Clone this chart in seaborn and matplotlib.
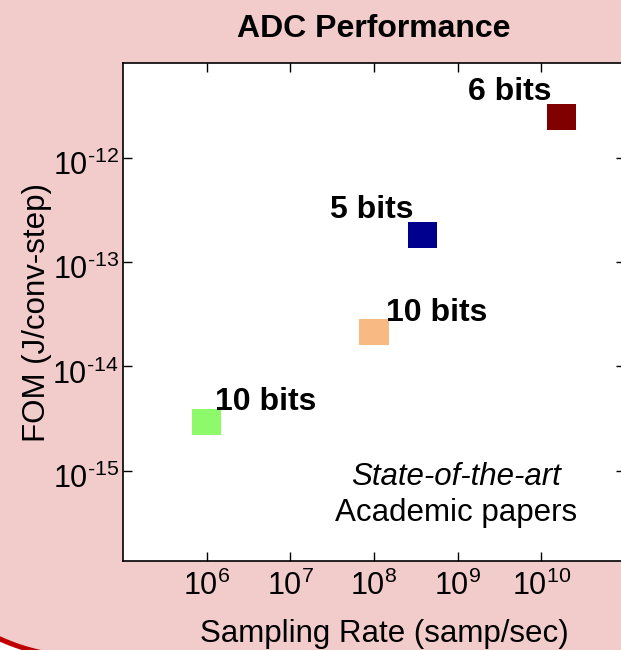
import matplotlib
matplotlib.use('Agg')
import matplotlib.pyplot as plt
import matplotlib.transforms as mtransforms
import seaborn as sns
import pandas as pd
import numpy as np
import math
from matplotlib.patches import PathPatch
from matplotlib.path import Path
from matplotlib.ticker import FixedLocator, FuncFormatter, NullLocator

# ---- data ----
series = ['6 bits A', '5 bits', '10 bits A', '10 bits B']
labels = ['6 bits', '5 bits', '10 bits', '10 bits']
rate = [1.76e10, 3.8e8, 1.0e8, 1.0e6]          # samp/sec
fom = [2.47e-12, 1.82e-13, 2.14e-14, 2.95e-15]  # J/conv-step
colors = ['#800000', '#00008F', '#F9B983', '#8FF96C']
x_ticks = [1e6, 1e7, 1e8, 1e9, 1e10]
y_ticks = [1e-15, 1e-14, 1e-13, 1e-12]
x_limits = [1e5, 1e11]
y_limits = [1.36e-16, 8.17e-12]

# label styling (offsets in points, alignment)
label_offsets = [(-7.2, 12.2), (-6.8, 12.2), (8.3, 7.9), (6.1, 8.6)]
label_ha = ['right', 'right', 'left', 'left']

sns.set_theme(style='ticks')
plt.rcParams['font.family'] = ['Liberation Sans', 'DejaVu Sans']
plt.rcParams['mathtext.default'] = 'regular'

W, H = 621, 650
fig = plt.figure(figsize=(W / 100, H / 100), dpi=100)
fig.patch.set_facecolor('white')

# slide-like pink background with rounded bottom-left corner (pixel coords)
cx, cy, R = 83.0, 457.0, 200.0        # corner circle in image pixels (y down)
theta = np.linspace(np.pi, np.pi / 2, 60)  # from left to bottom
arc_x = cx + R * np.cos(theta)
arc_y = cy + R * np.sin(theta)
px = np.concatenate([[-200, cx - R], arc_x, [W + 200, W + 200, -200]])
py = np.concatenate([[-200, cy], arc_y, [cy + R, -200, -200]])
verts = np.column_stack([px, H - py])
bg = PathPatch(Path(verts, closed=False), transform=mtransforms.IdentityTransform(),
               fc='#F2CBCB', ec='#C00000', lw=3.6, zorder=-10)
fig.add_artist(bg)

ax = fig.add_axes([123 / W, 89 / H, 502 / W, 498 / H])
ax.set_facecolor('white')

df = pd.DataFrame({'series': series, 'label': labels, 'rate': rate, 'fom': fom})
rect = [(-1, -0.9), (1, -0.9), (1, 0.9), (-1, 0.9), (-1, -0.9)]
sns.scatterplot(data=df, x='rate', y='fom', hue='series',
                palette=dict(zip(series, colors)), marker=rect, s=436,
                edgecolor='none', linewidth=0, legend=False, ax=ax, zorder=3)

ax.set_xscale('log')
ax.set_yscale('log')
ax.set_xlim(*x_limits)
ax.set_ylim(*y_limits)

ax.xaxis.set_major_locator(FixedLocator(x_ticks))
ax.yaxis.set_major_locator(FixedLocator(y_ticks))
ax.xaxis.set_minor_locator(NullLocator())
ax.yaxis.set_minor_locator(NullLocator())


def fmt(v, pos):
    e = int(round(math.log10(v)))
    if e < 0:
        return '$10^{\u2010%d}$' % (-e)
    return '$10^{%d}$' % e


ax.xaxis.set_major_formatter(FuncFormatter(fmt))
ax.yaxis.set_major_formatter(FuncFormatter(fmt))

ax.tick_params(which='both', direction='in', top=True, right=True,
               length=6.5, width=1.0, color='black', labelsize=22,
               labelcolor='black')
ax.tick_params(axis='x', pad=7)
ax.tick_params(axis='y', pad=3)
for sp in ax.spines.values():
    sp.set_visible(True)
    sp.set_color('black')
    sp.set_linewidth(1.2)

# y tick labels sit slightly below their ticks in the reference
shift = mtransforms.ScaledTranslation(0, -5 / 100, fig.dpi_scale_trans)
for t in ax.get_yticklabels():
    t.set_transform(t.get_transform() + shift)

for lab, x, y, off, ha in zip(labels, rate, fom, label_offsets, label_ha):
    ax.annotate(lab, (x, y), xytext=off, textcoords='offset points',
                ha=ha, va='baseline', fontsize=23, fontweight='bold',
                color='black', zorder=4)

ax.text(0.663, 0.153, 'State-of-the-art', transform=ax.transAxes,
        ha='center', va='baseline', fontsize=22.5, style='italic', color='black')
ax.text(0.663, 0.080, 'Academic papers', transform=ax.transAxes,
        ha='center', va='baseline', fontsize=22.5, color='black')

ax.set_title('ADC Performance', fontsize=23, fontweight='bold', pad=18.7,
             color='black')
ax.set_xlabel('Sampling Rate (samp/sec)', fontsize=22.5, color='black')
ax.set_ylabel('FOM (J/conv-step)', fontsize=22.5, color='black')
ax.xaxis.label.set_va('baseline')
ax.yaxis.label.set_va('baseline')
ax.xaxis.set_label_coords(0.52, -0.163)
ax.yaxis.set_label_coords(-0.155, 0.498)

fig.savefig('out.png', dpi=100, facecolor=fig.get_facecolor())
